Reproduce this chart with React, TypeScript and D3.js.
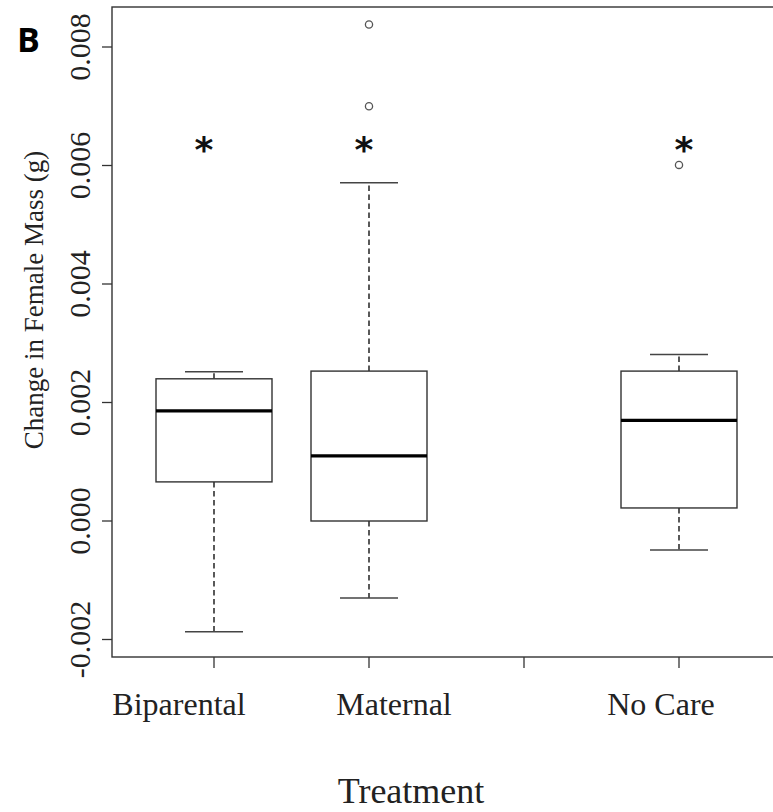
import React from 'react';
import * as d3 from 'd3';

// groups and their slot on the x axis (slot 3 is an empty treatment)
const categories = ['Biparental', 'Maternal', 'No Care'];
const slots = [1, 2, 4];
const axisSlots = [1, 2, 3, 4];

// five-number summaries
const whiskerLow = [-0.00187, -0.0013, -0.00049];
const q1 = [0.00066, 0.0, 0.00022];
const medians = [0.00186, 0.0011, 0.0017];
const q3 = [0.0024, 0.00253, 0.00253];
const whiskerHigh = [0.00252, 0.00571, 0.00281];
const outliers = [[], [0.00838, 0.007], [0.00601]];
const starValue = [0.0064, 0.0064, 0.0064];

const yTicks = [-0.002, 0, 0.002, 0.004, 0.006, 0.008];
const yTickLabels = ['-0.002', '0.000', '0.002', '0.004', '0.006', '0.008'];

const W = 773;
const H = 812;
const frame = { left: 112, top: 7, right: 780, bottom: 657 };
const boxW = 116;
const labelShift = [-35, 25, -18];
const starShift = [-10, -5, 5];

const serif = '"Liberation Serif", "Times New Roman", serif';

export default function App() {
    const x = d3.scaleLinear().domain([1, 4]).range([214, 679]);
    const y = d3.scaleLinear().domain([-0.002, 0.008]).range([639.5, 47]);

    return (
        <div style={{ position: 'absolute', left: 0, top: 0, background: '#fff' }}>
            <svg width={W} height={H} style={{ display: 'block' }}>
                <rect width={W} height={H} fill="#fff" />

                <text x={17} y={52} fontFamily='"Open Sans", Lato, sans-serif' fontWeight={700} fontSize={34}>B</text>

                {/* plot frame */}
                <rect x={frame.left} y={frame.top} width={frame.right - frame.left} height={frame.bottom - frame.top}
                    fill="none" stroke="#333" strokeWidth={1.4} />

                {/* y axis */}
                {yTicks.map((t, i) => (
                    <g key={'yt' + i}>
                        <line x1={frame.left - 10} x2={frame.left} y1={y(t)} y2={y(t)} stroke="#333" strokeWidth={1.3} />
                        <text transform={`translate(90,${y(t)}) rotate(-90)`} textAnchor="middle"
                            fontFamily={serif} fontSize={30} fill="#222">{yTickLabels[i]}</text>
                    </g>
                ))}
                <text transform="translate(43,300) rotate(-90)" textAnchor="middle" fontFamily={serif} fontSize={27} fill="#222">
                    Change in Female Mass (g)
                </text>

                {/* x axis */}
                {axisSlots.map(s => (
                    <line key={'xt' + s} x1={x(s)} x2={x(s)} y1={frame.bottom} y2={frame.bottom + 11} stroke="#333" strokeWidth={1.3} />
                ))}
                {categories.map((c, i) => (
                    <text key={'xl' + c} x={x(slots[i]) + labelShift[i]} y={715} textAnchor="middle"
                        fontFamily={serif} fontSize={32} fill="#222">{c}</text>
                ))}
                <text x={411} y={803} textAnchor="middle" fontFamily={serif} fontSize={36} fill="#222">Treatment</text>

                {/* boxes */}
                {categories.map((c, i) => {
                    const cx = x(slots[i]);
                    return (
                        <g key={'box' + c}>
                            <line x1={cx} x2={cx} y1={y(q3[i])} y2={y(whiskerHigh[i])} stroke="#000" strokeWidth={1.3} strokeDasharray="5.5,3.5" />
                            <line x1={cx} x2={cx} y1={y(q1[i])} y2={y(whiskerLow[i])} stroke="#000" strokeWidth={1.3} strokeDasharray="5.5,3.5" />
                            <line x1={cx - boxW / 4} x2={cx + boxW / 4} y1={y(whiskerHigh[i])} y2={y(whiskerHigh[i])} stroke="#444" strokeWidth={1.4} />
                            <line x1={cx - boxW / 4} x2={cx + boxW / 4} y1={y(whiskerLow[i])} y2={y(whiskerLow[i])} stroke="#444" strokeWidth={1.4} />
                            <rect x={cx - boxW / 2} y={y(q3[i])} width={boxW} height={y(q1[i]) - y(q3[i])}
                                fill="#fff" stroke="#333" strokeWidth={1.4} />
                            <line x1={cx - boxW / 2} x2={cx + boxW / 2} y1={y(medians[i])} y2={y(medians[i])} stroke="#000" strokeWidth={3.2} />
                            {outliers[i].map((o, j) => (
                                <circle key={'o' + j} cx={cx} cy={y(o)} r={3.6} fill="none" stroke="#555" strokeWidth={1.3} />
                            ))}
                            <text x={cx + starShift[i]} y={y(starValue[i]) + 20} textAnchor="middle"
                                fontFamily='"DejaVu Sans", sans-serif' fontWeight={700} fontSize={36} fill="#111">*</text>
                        </g>
                    );
                })}
            </svg>
        </div>
    );
}
